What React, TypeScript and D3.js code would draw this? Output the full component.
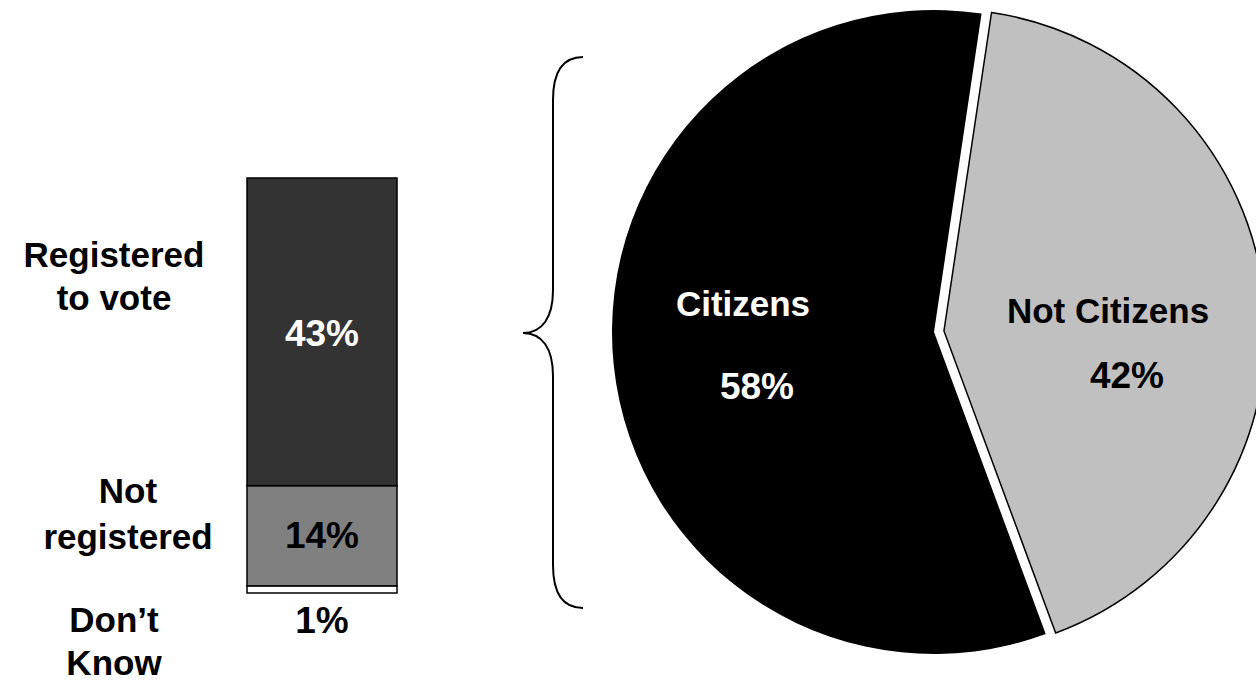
import React from "react";
import * as d3 from "d3";

// ---- Data ----
const barCategories = ["Registered to vote", "Not registered", "Don't Know"];
const barValues = [43, 14, 1];
const barLabelLines = [["Registered", "to vote"], ["Not", "registered"], ["Don\u2019t", "Know"]];
const barColors = ["#333333", "#808080", "#ffffff"];

const pieCategories = ["Citizens", "Not Citizens"];
const pieValues = [58, 42];
const pieColors = ["#000000", "#c0c0c0"];

const W = 1256;
const H = 681;
const FONT = "'Liberation Sans', Arial, Helvetica, sans-serif";

export default function App() {
  const total = d3.sum(barValues);
  const barX0 = 247;
  const barX1 = 397;
  const y = d3.scaleLinear().domain([0, total]).range([593, 178]);
  let acc = 0;
  const stacked = barValues
    .map((v, i) => ({ v, i }))
    .reverse()
    .map((d) => {
      const r = { ...d, yBottom: y(acc), yTop: y(acc + d.v) };
      acc += d.v;
      return r;
    });

  // Pie
  const cx = 934;
  const cy = 332;
  const R = 322;
  const startDeg = 159.7;
  const pie = d3
    .pie<number>()
    .sort(null)
    .startAngle((startDeg * Math.PI) / 180)
    .endAngle((startDeg * Math.PI) / 180 + 2 * Math.PI);
  const arcs = pie(pieValues);
  const arc = d3.arc<d3.PieArcDatum<number>>().innerRadius(0).outerRadius(R);
  const explode = 10;

  const barLabelX = [114, 128, 114];
  const barLabelLineY = [
    [254, 297],
    [490, 536],
    [619, 662],
  ];
  const valueLabelY = [333, 535, 620];

  const pieLabelPos = [
    { x: 743, y: 303, vx: 757, vy: 386 },
    { x: 1108, y: 310, vx: 1127, vy: 375 },
  ];
  const FS = 35;
  const FSV = 37;

  return (
    <svg
      width={W}
      height={H}
      style={{ position: "absolute", left: 0, top: 0, background: "#fff" }}
      fontFamily={FONT}
      fontWeight="bold"
    >
      {/* Stacked bar */}
      {stacked.map((s) => (
        <rect
          key={s.i}
          x={barX0}
          y={s.yTop}
          width={barX1 - barX0}
          height={s.yBottom - s.yTop}
          fill={barColors[s.i]}
          stroke="#000"
          strokeWidth={1.5}
        />
      ))}
      {barValues.map((v, i) => (
        <text
          key={"v" + i}
          x={(barX0 + barX1) / 2}
          y={valueLabelY[i]}
          textAnchor="middle"
          dominantBaseline="central"
          fontSize={FSV}
          fill={i === 0 ? "#fff" : "#000"}
        >
          {v + "%"}
        </text>
      ))}
      {barLabelLines.map((lines, i) => (
        <text key={"l" + i} textAnchor="middle" fontSize={FS} fill="#000">
          {lines.map((ln, j) => (
            <tspan
              key={j}
              x={barLabelX[i]}
              y={barLabelLineY[i][j]}
              dominantBaseline="central"
            >
              {ln}
            </tspan>
          ))}
        </text>
      ))}

      {/* Brace */}
      <path
        d={`M583,57 C562,57 553,72 553,100 L553,290 C553,318 542,333 523,333 C542,333 553,348 553,376 L553,565 C553,593 562,608 583,608`}
        fill="none"
        stroke="#000"
        strokeWidth={2}
      />

      {/* Pie */}
      {arcs.map((a, i) => {
        const mid = (a.startAngle + a.endAngle) / 2;
        const dx = i === 1 ? Math.sin(mid) * explode : 0;
        const dy = i === 1 ? -Math.cos(mid) * explode : 0;
        return (
          <path
            key={"p" + i}
            d={arc(a) || ""}
            transform={`translate(${cx + dx},${cy + dy})`}
            fill={pieColors[i]}
            stroke="#000"
            strokeWidth={i === 1 ? 1.5 : 0}
          />
        );
      })}
      {pieCategories.map((c, i) => (
        <g key={"pl" + i}>
          <text
            x={pieLabelPos[i].x}
            y={pieLabelPos[i].y}
            textAnchor="middle"
            dominantBaseline="central"
            fontSize={FS}
            fill={i === 0 ? "#fff" : "#000"}
          >
            {c}
          </text>
          <text
            x={pieLabelPos[i].vx}
            y={pieLabelPos[i].vy}
            textAnchor="middle"
            dominantBaseline="central"
            fontSize={FSV}
            fill={i === 0 ? "#fff" : "#000"}
          >
            {pieValues[i] + "%"}
          </text>
        </g>
      ))}
    </svg>
  );
}
